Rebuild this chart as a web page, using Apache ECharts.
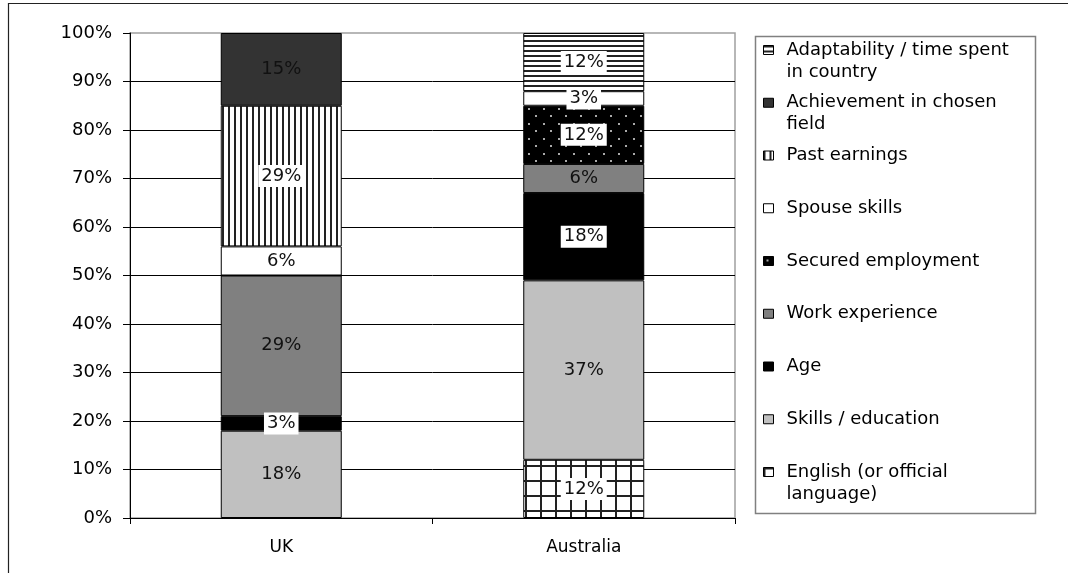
<!DOCTYPE html>
<html>
<head>
<meta charset="utf-8">
<title>Points system factors</title>
<script src="https://cdn.jsdelivr.net/npm/echarts@6/dist/echarts.min.js"></script>
<style>
  html, body { margin: 0; padding: 0; background: #fff; }
  #main { width: 1068px; height: 573px; }
</style>
</head>
<body>
<div id="main"></div>
<script>
// 图表数据 (从下往上堆叠)
var categories = ['UK', 'Australia'];
var seriesNames = [
  'English (or official language)',
  'Skills / education',
  'Age',
  'Work experience',
  'Secured employment',
  'Spouse skills',
  'Past earnings',
  'Achievement in chosen field',
  'Adaptability / time spent in country'
];
var english = [0, 12];
var skills = [18, 37];
var age = [3, 18];
var workExp = [29, 6];
var secured = [0, 12];
var spouse = [6, 3];
var pastEarnings = [29, 0];
var achievement = [15, 0];
var adaptability = [0, 12];
var yTicks = [0, 10, 20, 30, 40, 50, 60, 70, 80, 90, 100];

// 图例文字换行
var legendText = {
  'Adaptability / time spent in country': 'Adaptability / time spent\nin country',
  'Achievement in chosen field': 'Achievement in chosen\nfield',
  'English (or official language)': 'English (or official\nlanguage)'
};

var FONT = 'DejaVu Sans';

// 画填充图案
function makePattern(w, h, bg, fg, draw) {
  var c = document.createElement('canvas');
  c.width = w;
  c.height = h;
  var ctx = c.getContext('2d');
  ctx.fillStyle = bg;
  ctx.fillRect(0, 0, w, h);
  ctx.fillStyle = fg;
  draw(ctx);
  return { image: c, repeat: 'repeat' };
}

var gridFill = makePattern(15, 15, '#fff', '#222', function (ctx) {
  ctx.fillRect(0, 0, 2, 15);
  ctx.fillRect(0, 0, 15, 2);
});
var dotFill = makePattern(15, 15, '#000', '#aaa', function (ctx) {
  ctx.fillRect(3, 3, 2, 2);
  ctx.fillRect(10, 10, 2, 2);
});
var vLineFill = makePattern(6, 8, '#fff', '#222', function (ctx) {
  ctx.fillRect(0, 0, 2, 8);
});
var hLineFill = makePattern(8, 5, '#fff', '#222', function (ctx) {
  ctx.fillRect(0, 0, 8, 2);
});

// 每个系列: 数据, 填充, 标签是否有白底
var seriesDefs = [
  [english, gridFill, true],
  [skills, '#c0c0c0', false],
  [age, '#000', true],
  [workExp, '#808080', false],
  [secured, dotFill, true],
  [spouse, '#fff', true],
  [pastEarnings, vLineFill, true],
  [achievement, '#333333', false],
  [adaptability, hLineFill, true]
];

var series = seriesDefs.map(function (d, i) {
  return {
    name: seriesNames[i],
    type: 'bar',
    stack: 'total',
    barCategoryGap: '60%',
    data: d[0].map(function (v) { return v === 0 ? '-' : v; }),
    itemStyle: { color: d[1], borderColor: '#000', borderWidth: 1 },
    label: {
      show: true,
      position: 'inside',
      formatter: '{c}%',
      color: '#111',
      fontFamily: FONT,
      fontSize: 18,
      backgroundColor: d[2] ? '#fff' : 'transparent',
      padding: [2, 3]
    }
  };
});

// 图例: 每项单独一个, 顺序与堆叠相反
// 两行的文字前面加一空行, 让图标对齐第一行
var legends = seriesNames.slice().reverse().map(function (name, i) {
  var twoLine = !!legendText[name];
  var center = 50 + i * 52.75;
  return {
    data: [name],
    orient: 'vertical',
    left: 763,
    top: twoLine ? center - 33 : center - 11,
    padding: 0,
    icon: 'rect',
    itemWidth: 10,
    itemHeight: 9,
    selectedMode: false,
    itemStyle: { borderColor: '#000', borderWidth: 1 },
    formatter: function (n) { return legendText[n] ? '\n' + legendText[n] : n; },
    textStyle: {
      fontFamily: FONT,
      fontSize: 18,
      color: '#000',
      lineHeight: 22,
      padding: [0, 0, 0, 8]
    }
  };
});

var chart = echarts.init(document.getElementById('main'));
var option = {
  animation: false,
  backgroundColor: '#fff',
  grid: {
    left: 130, right: 333, top: 33, bottom: 55,
    show: true, borderColor: '#a0a0a0', borderWidth: 1.5
  },
  legend: legends,
  xAxis: {
    type: 'category',
    data: categories,
    axisLine: { lineStyle: { color: '#000', width: 1 } },
    axisTick: { show: true, length: 6, lineStyle: { color: '#000' } },
    axisLabel: { margin: 21, fontFamily: FONT, fontSize: 17, color: '#000' }
  },
  yAxis: {
    type: 'value',
    min: yTicks[0],
    max: yTicks[yTicks.length - 1],
    interval: yTicks[1] - yTicks[0],
    axisLine: { show: true, lineStyle: { color: '#000' } },
    axisTick: { show: true, length: 7, lineStyle: { color: '#000' } },
    axisLabel: { formatter: '{value}%', margin: 18, fontFamily: FONT, fontSize: 18, color: '#000' },
    splitLine: { show: true, showMaxLine: false, lineStyle: { color: '#000', width: 1 } }
  },
  graphic: [
    { // 外框
      type: 'rect', silent: true, z: -1,
      shape: { x: 8.5, y: 3.5, width: 1200, height: 700 },
      style: { fill: 'none', stroke: '#222', lineWidth: 1.2 }
    },
    { // 图例框
      type: 'rect', silent: true,
      shape: { x: 755.5, y: 36.5, width: 280, height: 477 },
      style: { fill: 'none', stroke: '#808080', lineWidth: 1.5 }
    }
  ],
  series: series
};
chart.setOption(option);
</script>
</body>
</html>
